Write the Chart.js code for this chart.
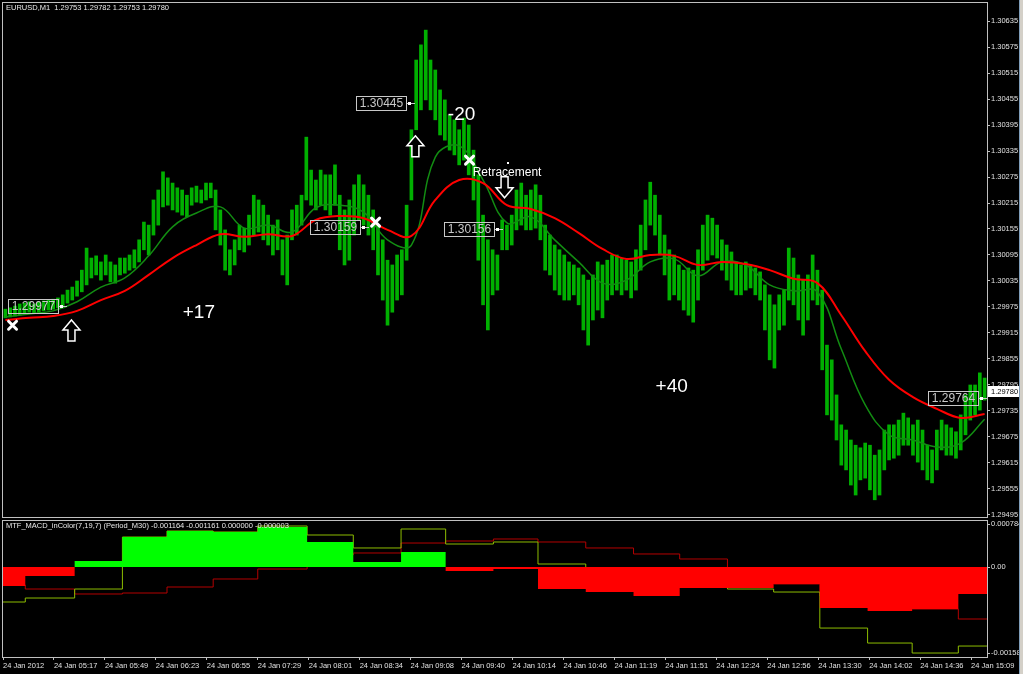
<!DOCTYPE html>
<html>
<head>
<meta charset="utf-8">
<title>EURUSD,M1</title>
<script src="https://cdn.jsdelivr.net/npm/chart.js@4.4.1/dist/chart.umd.min.js"></script>
<style>
  html, body { margin: 0; padding: 0; background: #000; overflow: hidden; }
  #wrap { position: relative; width: 1023px; height: 674px; background: #000; }
  #priceChart { position: absolute; left: 0; top: 0; }
  #macdChart { position: absolute; left: 0; top: 519px; }
  #edge { position: absolute; left: 1019px; top: 0; width: 3px; height: 674px; background: #d4d0c8; border-left: 1px solid #7f9db9; z-index: 5; }
</style>
</head>
<body>
<div id="wrap">
  <canvas id="priceChart" width="1023" height="520"></canvas>
  <canvas id="macdChart" width="1023" height="155"></canvas>
  <div id="edge"></div>
</div>
<script>
// Prezzi: un massimo e un minimo ogni 3 barre M1
const priceHigh = [1.29970,1.29973,1.29977,1.29982,1.29984,1.29987,1.29982,1.29987,1.29989,1.29991,
  1.29993,1.29996,1.30003,1.30014,1.30021,1.30035,1.30060,1.30111,1.30088,1.30093,
  1.30079,1.30095,1.30079,1.30072,1.30088,1.30088,1.30095,1.30107,1.30130,1.30171,
  1.30164,1.30222,1.30245,1.30287,1.30273,1.30261,1.30250,1.30245,1.30233,1.30250,
  1.30254,1.30245,1.30261,1.30261,1.30245,1.30199,1.30153,1.30107,1.30130,1.30164,
  1.30157,1.30187,1.30233,1.30222,1.30210,1.30187,1.30164,1.30176,1.30130,1.30141,
  1.30199,1.30210,1.30233,1.30367,1.30291,1.30268,1.30291,1.30280,1.30280,1.30303,
  1.30233,1.30199,1.30222,1.30257,1.30280,1.30257,1.30233,1.30199,1.30164,1.30130,
  1.30083,1.30072,1.30095,1.30107,1.30210,1.30384,1.30545,1.30580,1.30614,1.30545,
  1.30522,1.30476,1.30453,1.30418,1.30407,1.30384,1.30411,1.30395,1.30337,1.30280,
  1.30187,1.30130,1.30107,1.30095,1.30176,1.30164,1.30187,1.30245,1.30261,1.30233,
  1.30245,1.30257,1.30233,1.30164,1.30141,1.30118,1.30107,1.30095,1.30079,1.30072,
  1.30065,1.30049,1.30037,1.30049,1.30079,1.30072,1.30083,1.30095,1.30095,1.30088,
  1.30083,1.30079,1.30107,1.30164,1.30222,1.30263,1.30233,1.30187,1.30141,1.30107,
  1.30095,1.30072,1.30060,1.30065,1.30060,1.30107,1.30164,1.30187,1.30180,1.30164,
  1.30130,1.30118,1.30102,1.30079,1.30072,1.30079,1.30072,1.30065,1.30056,1.30026,
  1.30003,1.29980,1.30003,1.30014,1.30111,1.30088,1.30049,1.30037,1.30049,1.30095,
  1.30060,1.30014,1.29887,1.29853,1.29772,1.29703,1.29691,1.29668,1.29656,1.29650,
  1.29661,1.29656,1.29633,1.29645,1.29691,1.29703,1.29703,1.29714,1.29730,1.29719,
  1.29703,1.29714,1.29691,1.29656,1.29645,1.29691,1.29714,1.29703,1.29696,1.29687,
  1.29726,1.29772,1.29795,1.29795,1.29823,1.29811];

const priceLow = [1.29950,1.29952,1.29954,1.29956,1.29961,1.29963,1.29961,1.29963,1.29966,1.29968,
  1.29970,1.29973,1.29977,1.29984,1.29991,1.30000,1.30010,1.30026,1.30042,1.30049,
  1.30037,1.30049,1.30033,1.30030,1.30049,1.30053,1.30060,1.30065,1.30079,1.30107,
  1.30095,1.30141,1.30164,1.30206,1.30210,1.30199,1.30194,1.30187,1.30183,1.30210,
  1.30217,1.30215,1.30222,1.30227,1.30153,1.30118,1.30060,1.30049,1.30072,1.30107,
  1.30102,1.30118,1.30141,1.30148,1.30130,1.30118,1.30095,1.30107,1.30049,1.30026,
  1.30130,1.30141,1.30164,1.30222,1.30210,1.30199,1.30210,1.30199,1.30187,1.30210,
  1.30107,1.30072,1.30083,1.30141,1.30176,1.30164,1.30141,1.30107,1.30049,1.29991,
  1.29933,1.29963,1.29991,1.30003,1.30083,1.30222,1.30384,1.30430,1.30453,1.30430,
  1.30407,1.30372,1.30360,1.30337,1.30326,1.30303,1.30314,1.30280,1.30222,1.30083,
  1.29980,1.29922,1.30003,1.30014,1.30107,1.30107,1.30118,1.30153,1.30164,1.30153,
  1.30153,1.30157,1.30130,1.30060,1.30049,1.30014,1.30003,1.29991,1.29991,1.30003,
  1.29980,1.29922,1.29887,1.29945,1.29968,1.29950,1.29991,1.30003,1.30014,1.30003,
  1.30014,1.29996,1.30014,1.30060,1.30107,1.30164,1.30141,1.30095,1.30049,1.29991,
  1.30003,1.29991,1.29968,1.29956,1.29940,1.29991,1.30060,1.30083,1.30095,1.30088,
  1.30060,1.30037,1.30014,1.30003,1.30003,1.30014,1.30019,1.30003,1.29991,1.29922,
  1.29853,1.29834,1.29922,1.29933,1.29991,1.29980,1.29945,1.29910,1.29945,1.29991,
  1.29980,1.29830,1.29726,1.29714,1.29668,1.29610,1.29599,1.29564,1.29541,1.29576,
  1.29580,1.29553,1.29530,1.29541,1.29599,1.29622,1.29626,1.29633,1.29656,1.29656,
  1.29633,1.29617,1.29599,1.29576,1.29569,1.29599,1.29645,1.29633,1.29633,1.29626,
  1.29645,1.29680,1.29714,1.29726,1.29737,1.29760];

// Medie mobili, un valore ogni 15 barre
const maSlow = [1.29945,1.29950,1.29954,1.29966,1.29991,1.30012,1.30049,1.30088,1.30118,1.30143,
  1.30137,1.30143,1.30139,1.30176,1.30185,1.30180,1.30153,1.30139,1.30222,1.30268,
  1.30261,1.30210,1.30201,1.30180,1.30146,1.30109,1.30086,1.30095,1.30093,1.30072,
  1.30079,1.30074,1.30060,1.30040,1.30030,1.29956,1.29873,1.29807,1.29767,1.29740,
  1.29719,1.29728];
const maFast = [1.29952,1.29959,1.29966,1.29987,1.30021,1.30042,1.30093,1.30160,1.30192,1.30206,
  1.30157,1.30164,1.30148,1.30204,1.30210,1.30194,1.30130,1.30118,1.30321,1.30347,
  1.30268,1.30169,1.30183,1.30130,1.30079,1.30030,1.30037,1.30079,1.30086,1.30047,
  1.30079,1.30072,1.30026,1.30012,1.30010,1.29878,1.29749,1.29680,1.29668,1.29652,
  1.29661,1.29716];

// Scala dei prezzi (asse destro)
const priceTicks = [1.30635,1.30575,1.30515,1.30455,1.30395,1.30335,1.30275,1.30215,1.30155,1.30095,
  1.30035,1.29975,1.29915,1.29855,1.29795,1.29735,1.29675,1.29615,1.29555,1.29495];
const lastPrice = 1.29780;

// Asse dei tempi: posizione in barre M1 ed etichette
const timeTickBars = [0,32,64,96,128,160,192,224,256,288,320,352,384,416,448,480,512,544,576,608];
const timeLabels = ['24 Jan 2012','24 Jan 05:17','24 Jan 05:49','24 Jan 06:23','24 Jan 06:55',
  '24 Jan 07:29','24 Jan 08:01','24 Jan 08:34','24 Jan 09:08','24 Jan 09:40','24 Jan 10:14',
  '24 Jan 10:46','24 Jan 11:19','24 Jan 11:51','24 Jan 12:24','24 Jan 12:56','24 Jan 13:30',
  '24 Jan 14:02','24 Jan 14:36','24 Jan 15:09'];
const lastBar = 618;

// MACD M30: inizio di ogni candela M30 (in barre M1) e valori
const m30Start = [0,14,45,75,103,132,160,191,220,250,278,308,336,366,396,425,455,484,513,543,571,600];
const macdHist = [-0.000349,-0.000165,0.000110,0.000550,0.000660,0.000642,0.000734,0.000459,0.000092,0.000275,
  -0.000073,-0.000037,-0.000404,-0.000459,-0.000532,-0.000385,-0.000385,-0.000312,-0.000752,-0.000807,-0.000771,-0.000495];
const macdMain = [-0.000642,-0.000569,-0.000404,0.000550,0.000660,0.000642,0.000752,0.000587,0.000349,0.000697,
  0.000422,0.000459,0.000055,-0.000092,-0.000239,-0.000349,-0.000404,-0.000459,-0.001120,-0.001395,-0.001578,-0.001450];
const macdSignal = [-0.000330,-0.000404,-0.000495,-0.000477,-0.000367,-0.000220,-0.000037,0.000220,0.000257,0.000440,
  0.000477,0.000514,0.000459,0.000349,0.000239,0.000147,-0.000128,-0.000312,-0.000532,-0.000660,-0.000771,-0.000954];
const macdTicks = [0.000784, 0, -0.00158];
const macdTickLabels = ['0.000784', '0.00', '-0.00158'];

// Oggetti disegnati sul grafico
const boxLabels = [
  { bar: 40, price: 1.29977 },
  { bar: 230, price: 1.30159 },
  { bar: 259, price: 1.30445 },
  { bar: 314, price: 1.30156 },
  { bar: 618, price: 1.29764 }
];
const crossMarks = [ { bar: 6, price: 1.29933 }, { bar: 234, price: 1.30171 }, { bar: 293, price: 1.30314 } ];
const arrowMarks = [
  { bar: 43, price: 1.29945, dir: 'up' },
  { bar: 259, price: 1.30370, dir: 'up' },
  { bar: 315, price: 1.30227, dir: 'down' }
];
const bigNotes = [
  { bar: 123, price: 1.29961, text: '+17' },
  { bar: 288, price: 1.30418, text: '-20' },
  { bar: 420, price: 1.29790, text: '+40' }
];
const smallNote = { bar: 295, price: 1.30286, text: 'Retracement' };
const dotMark = { bar: 317, price: 1.30307 };

const headerPrice = 'EURUSD,M1  1.29753 1.29782 1.29753 1.29780';
const headerMacd = 'MTF_MACD_inColor(7,19,7) (Period_M30) -0.001164 -0.001161 0.000000 -0.000003';

const FONT = '"Liberation Sans", Arial, sans-serif';
Chart.defaults.font.family = FONT;

// Costruiamo i dati per Chart.js
const barsData = priceHigh.map((h, i) => ({ x: i * 3 + 1.5, y: [priceLow[i], h] }));
const slowData = maSlow.map((v, k) => ({ x: k * 15 + 1.5, y: v }));
const fastData = maFast.map((v, k) => ({ x: k * 15 + 1.5, y: v }));
function stepData(vals) {
  const pts = vals.map((v, i) => ({ x: m30Start[i], y: v }));
  pts.push({ x: lastBar, y: vals[vals.length - 1] });
  return pts;
}

function drawArrow(ctx, cx, tip, dir) {
  const s = dir === 'up' ? 1 : -1;
  ctx.beginPath();
  ctx.moveTo(cx, tip);
  ctx.lineTo(cx + 8.5, tip + s * 10);
  ctx.lineTo(cx + 3.5, tip + s * 10);
  ctx.lineTo(cx + 3.5, tip + s * 21);
  ctx.lineTo(cx - 3.5, tip + s * 21);
  ctx.lineTo(cx - 3.5, tip + s * 10);
  ctx.lineTo(cx - 8.5, tip + s * 10);
  ctx.closePath();
  ctx.fillStyle = '#000';
  ctx.fill();
  ctx.strokeStyle = '#fff';
  ctx.lineWidth = 1.5;
  ctx.stroke();
}

// Plugin per cornice, etichette e simboli del grafico prezzi
const overlayPrice = {
  id: 'overlayPrice',
  afterDraw(chart) {
    const { ctx, chartArea: a, scales: { x, y } } = chart;
    ctx.save();
    ctx.strokeStyle = '#c0c0c0';
    ctx.lineWidth = 1;
    ctx.strokeRect(a.left - 0.5, a.top - 0.5, a.right - a.left + 1, a.bottom - a.top + 1);

    ctx.textBaseline = 'middle';
    ctx.textAlign = 'left';
    ctx.fillStyle = '#e8e8e8';
    ctx.font = '7.5px ' + FONT;
    ctx.fillText(headerPrice, 6, 8);

    // etichette di prezzo con riquadro
    ctx.font = '12px ' + FONT;
    boxLabels.forEach(b => {
      const px = Math.round(x.getPixelForValue(b.bar));
      const py = Math.round(y.getPixelForValue(b.price));
      const right = px - 9, left = right - 50;
      ctx.strokeStyle = '#c8c8c8';
      ctx.lineWidth = 1;
      ctx.strokeRect(left + 0.5, py - 6.5, 50, 14);
      ctx.fillStyle = '#c8c8c8';
      ctx.textAlign = 'center';
      ctx.fillText(b.price.toFixed(5), left + 25.5, py + 1);
      ctx.beginPath();
      ctx.moveTo(right + 1, py + 0.5);
      ctx.lineTo(px, py + 0.5);
      ctx.stroke();
      ctx.fillStyle = '#fff';
      ctx.fillRect(right + 2, py - 1, 3, 3);
    });

    // croci bianche
    ctx.strokeStyle = '#fff';
    ctx.lineWidth = 3;
    ctx.lineCap = 'round';
    crossMarks.forEach(c => {
      const px = x.getPixelForValue(c.bar), py = y.getPixelForValue(c.price);
      ctx.beginPath();
      ctx.moveTo(px - 4, py - 4); ctx.lineTo(px + 4, py + 4);
      ctx.moveTo(px + 4, py - 4); ctx.lineTo(px - 4, py + 4);
      ctx.stroke();
    });
    ctx.lineCap = 'butt';

    // frecce vuote
    arrowMarks.forEach(m => drawArrow(ctx, x.getPixelForValue(m.bar), y.getPixelForValue(m.price), m.dir));

    // testi
    ctx.fillStyle = '#fff';
    ctx.textAlign = 'center';
    ctx.font = '19px ' + FONT;
    bigNotes.forEach(n => ctx.fillText(n.text, x.getPixelForValue(n.bar), y.getPixelForValue(n.price)));
    ctx.textAlign = 'left';
    ctx.font = '12px ' + FONT;
    ctx.fillText(smallNote.text, x.getPixelForValue(smallNote.bar), y.getPixelForValue(smallNote.price));
    ctx.fillRect(Math.round(x.getPixelForValue(dotMark.bar)) - 1, Math.round(y.getPixelForValue(dotMark.price)) - 1, 2, 2);

    // prezzo attuale sull'asse
    const ly = Math.round(y.getPixelForValue(lastPrice));
    ctx.fillStyle = '#fff';
    ctx.fillRect(a.right + 1, ly - 5, 31, 11);
    ctx.fillStyle = '#000';
    ctx.font = '7.5px ' + FONT;
    ctx.fillText(lastPrice.toFixed(5), a.right + 4, ly + 0.5);
    ctx.restore();
  }
};

const overlayMacd = {
  id: 'overlayMacd',
  afterDraw(chart) {
    const { ctx, chartArea: a } = chart;
    ctx.save();
    ctx.strokeStyle = '#c0c0c0';
    ctx.lineWidth = 1;
    ctx.strokeRect(a.left - 0.5, a.top - 0.5, a.right - a.left + 1, a.bottom - a.top + 1);
    ctx.fillStyle = '#e8e8e8';
    ctx.font = '7.5px ' + FONT;
    ctx.textBaseline = 'middle';
    ctx.textAlign = 'left';
    ctx.fillText(headerMacd, 6, 7);
    ctx.restore();
  }
};

const tickFont = { family: FONT, size: 7.5 };

// Grafico prezzi: barre, media veloce e media lenta
new Chart(document.getElementById('priceChart'), {
  type: 'bar',
  data: {
    datasets: [
      { type: 'bar', data: barsData, backgroundColor: '#00b000', barThickness: 3, order: 3 },
      { type: 'line', data: fastData, borderColor: '#128c12', borderWidth: 1.5, pointRadius: 0, tension: 0.4, order: 2 },
      { type: 'line', data: slowData, borderColor: '#ff0000', borderWidth: 2, pointRadius: 0, tension: 0.4, order: 1 }
    ]
  },
  options: {
    responsive: false,
    animation: false,
    layout: { padding: { left: 3, top: 3, right: 0, bottom: 3 } },
    plugins: { legend: { display: false }, tooltip: { enabled: false } },
    scales: {
      x: { type: 'linear', min: 0, max: lastBar, offset: false, display: false },
      y: {
        position: 'right',
        min: 1.294903,
        max: 1.306766,
        afterBuildTicks: s => { s.ticks = priceTicks.map(v => ({ value: v })); },
        afterFit: s => { s.width = 36; s.paddingTop = 0; s.paddingBottom = 0; },
        ticks: { color: '#e0e0e0', font: tickFont, padding: 1, callback: v => v.toFixed(5) },
        grid: { drawOnChartArea: false, drawTicks: true, tickLength: 3, color: '#c0c0c0' },
        border: { display: false }
      }
    }
  },
  plugins: [overlayPrice]
});

// Grafico MACD a gradini
new Chart(document.getElementById('macdChart'), {
  type: 'line',
  data: {
    datasets: [
      { data: stepData(macdSignal), stepped: true, borderColor: '#b40000', borderWidth: 1, pointRadius: 0, fill: false, order: 3 },
      { data: stepData(macdMain), stepped: true, borderColor: '#8cbc00', borderWidth: 1, pointRadius: 0, fill: false, order: 2 },
      { data: stepData(macdHist), stepped: true, borderWidth: 0, borderColor: 'rgba(0,0,0,0)', pointRadius: 0,
        fill: { target: 'origin', above: '#00ff00', below: '#ff0000' }, order: 0 }
    ]
  },
  options: {
    responsive: false,
    animation: false,
    layout: { padding: { left: 3, top: 2, right: 0, bottom: 0 } },
    plugins: { legend: { display: false }, tooltip: { enabled: false } },
    scales: {
      x: {
        type: 'linear',
        min: 0,
        max: lastBar,
        offset: false,
        afterBuildTicks: s => { s.ticks = timeTickBars.map(v => ({ value: v })); },
        afterFit: s => { s.height = 17; s.paddingLeft = 0; s.paddingRight = 0; },
        ticks: { color: '#e0e0e0', font: tickFont, padding: 1, align: 'start', maxRotation: 0, autoSkip: false,
          callback: (v, i) => timeLabels[i] },
        grid: { drawOnChartArea: false, drawTicks: true, tickLength: 3, color: '#c0c0c0' },
        border: { display: false }
      },
      y: {
        position: 'right',
        min: -0.001651,
        max: 0.000844,
        afterBuildTicks: s => { s.ticks = macdTicks.map(v => ({ value: v })); },
        afterFit: s => { s.width = 36; s.paddingTop = 0; s.paddingBottom = 0; },
        ticks: { color: '#e0e0e0', font: tickFont, padding: 1, callback: (v, i) => macdTickLabels[i] },
        grid: { drawOnChartArea: false, drawTicks: true, tickLength: 3, color: '#c0c0c0' },
        border: { display: false }
      }
    }
  },
  plugins: [overlayMacd]
});
</script>
</body>
</html>
